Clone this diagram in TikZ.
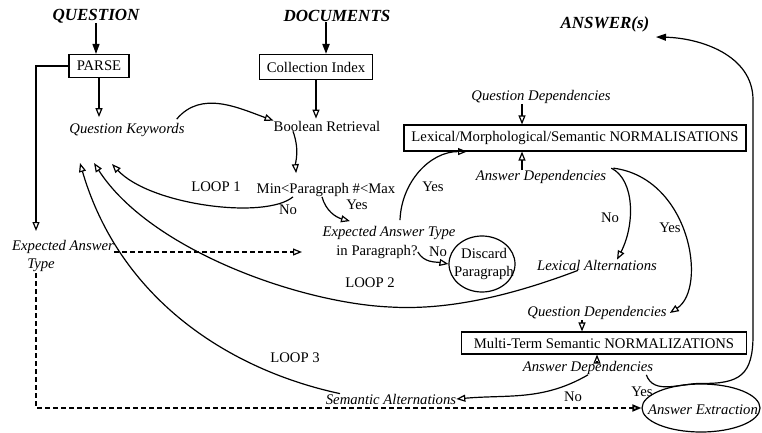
\documentclass[tikz,border=0pt]{standalone}
\usepackage{fontspec}
\setmainfont{Liberation Serif}
\usetikzlibrary{arrows.meta,shapes.geometric}
\begin{document}
\begin{tikzpicture}[x=1pt,y=-1pt,
  txt/.style={inner sep=0pt, font=\fontsize{14.7}{18}\selectfont},
  itx/.style={inner sep=0pt, font=\fontsize{14.7}{18}\selectfont\itshape},
  ttl/.style={inner sep=0pt, font=\fontsize{17}{20}\selectfont\bfseries\itshape},
  box/.style={txt, draw, line width=1.1pt},
  ln/.style={line width=1.2pt},
  oarrow/.style={-{Triangle[open,length=9pt,width=7pt]}},
  farrow/.style={-{Triangle[length=10pt,width=7pt]}},
  dsh/.style={dash pattern=on 5pt off 3pt},
]
\fill[white] (0,0) rectangle (762,433);
\useasboundingbox (0,0) rectangle (762,433);

% nodes
\node[ttl] (question) at (96,16) {QUESTION};
\node[ttl] (documents) at (337,16) {DOCUMENTS};
\node[ttl] (answers) at (605,24) {ANSWER(s)};
\node[box, minimum width=60pt, minimum height=23pt] (parse) at (99,66) {PARSE};
\node[box, minimum width=113pt, minimum height=25pt] (colidx) at (316,67) {Collection Index};
\node[itx] (qk) at (127,130) {Question Keywords};
\node[txt] (bool) at (327,126) {Boolean Retrieval};
\node[txt] (minmax) at (326,190) {Min<Paragraph \#<Max};
\node[txt] (loop1) at (216,187) {LOOP 1};
\node[txt] (no1) at (288,210) {No};
\node[txt] (yes1) at (357,205) {Yes};
\node[itx] (eat1) at (389,233) {Expected Answer Type};
\node[txt] (eat2) at (377,252) {in Paragraph?};
\node[itx] (eal) at (63,247) {Expected Answer};
\node[itx] (ealt) at (41,265) {Type};
\node[txt] (no2) at (438,252) {No};
\node[draw, ellipse, ln, minimum width=66pt, minimum height=56pt, inner sep=0pt] (discard) at (482,264) {};
\node[txt, align=center] (discardtxt) at (484,264) {Discard\\Paragraph};
\node[txt] (yes2) at (433,187) {Yes};
\node[box, minimum width=342pt, minimum height=26pt] (lmsn) at (575,138) {Lexical/Morphological/Semantic NORMALISATIONS};
\node[itx] (qd1) at (541,97) {Question Dependencies};
\node[itx] (ad1) at (541,177) {Answer Dependencies};
\node[txt] (no3) at (610,218) {No};
\node[txt] (yes3) at (670,228) {Yes};
\node[itx] (lexalt) at (597,265) {Lexical Alternations};
\node[txt] (loop2) at (370,283) {LOOP 2};
\node[itx] (qd2) at (597,313) {Question Dependencies};
\node[box, minimum width=285pt, minimum height=22pt] (mtsn) at (604,343) {Multi-Term Semantic NORMALIZATIONS};
\node[itx] (ad2) at (588,368) {Answer Dependencies};
\node[txt] (loop3) at (295,358) {LOOP 3};
\node[itx] (semalt) at (391,399) {Semantic Alternations};
\node[txt] (no4) at (573,397) {No};
\node[txt] (yes4) at (642,392) {Yes};
\node[draw, ellipse, ln, minimum width=118pt, minimum height=48pt, inner sep=0pt] (ae) at (701,408) {};
\node[itx] (aetxt) at (703,410) {Answer Extraction};

% free ends
\coordinate (eain) at (36,231);
\coordinate (eaout) at (36,273);
\coordinate (eatdash) at (302,252);
\coordinate (l1) at (112,164);
\coordinate (l2) at (94,163);
\coordinate (l3) at (80,163);
\coordinate (anstip) at (656,37);

% connectors
\draw[ln,farrow] (question.south) -- (question.south |- parse.north);
\draw[line width=2pt,farrow] ([xshift=-11pt]documents.south) -- ([xshift=10pt]colidx.north);
\draw[ln,oarrow,shorten >=6pt] (parse.south) -- (parse.south |- qk.north);
\draw[ln,oarrow,shorten >=2pt] (colidx.south) -- (colidx.south |- bool.north);
\draw[ln,oarrow] ([xshift=-8pt,yshift=4pt]qk.north east) to[out=50,in=160] (bool.north west);
\draw[ln,oarrow,shorten >=10pt] ([xshift=-34pt]bool.south) to[out=-70,in=95] ([xshift=-29pt]minmax.north);
\draw[ln,oarrow] ([xshift=-33pt]minmax.south) .. controls (265,220) and (150,205) .. (l1);
\draw[ln,oarrow] ([xshift=-4pt]minmax.south) to[out=-75,in=165] ([xshift=-39pt,yshift=5pt]eat1.north);
\draw[ln,dsh,oarrow] (eal.base east |- eatdash) -- (eatdash);
\draw[ln,oarrow] (eat2.east) to[out=-60,in=170] (discard.west);
\draw[ln,oarrow] ([xshift=11pt,yshift=6pt]eat1.north) to[out=88,in=180] ([xshift=-108pt]lmsn.south);
\draw[ln,oarrow] ([xshift=-19pt]qd1.south) -- ([xshift=-53pt]lmsn.north);
\draw[ln,oarrow] ([xshift=-19pt]ad1.north) -- ([xshift=-53pt]lmsn.south);
\draw[ln,oarrow] ([xshift=5pt,yshift=2pt]ad1.north east) .. controls (635,180) and (635,225) .. ([xshift=20pt]lexalt.north);
\draw[ln,oarrow] ([xshift=7pt,yshift=2pt]ad1.north east) .. controls (690,178) and (708,288) .. ([xshift=3pt]qd2.east);
\draw[ln,oarrow] ([xshift=-19pt]lexalt.south) .. controls (500,300) and (440,310) .. (390,307) .. controls (300,303) and (150,250) .. (l2);
\draw[ln,oarrow] ([xshift=-51pt]semalt.north) .. controls (230,370) and (120,300) .. (l3);
\draw[ln,oarrow] ([xshift=-15pt]qd2.south) -- ([xshift=-22pt]mtsn.north);
\draw[ln,oarrow] ([xshift=9pt]ad2.north) -- ([xshift=-7pt]mtsn.south);
\draw[ln,oarrow] (ad2.south) to[out=-150,in=5] (semalt.east);
\draw[ln] ([xshift=-7pt]ad2.south east) to[out=-70,in=180] (ae.north);
\draw[ln,farrow] (ae.north) .. controls (740,384) and (753,375) .. (753,335) -- (753,100) .. controls (753,55) and (700,38) .. (anstip);
\draw[ln,oarrow] (parse.west) -| (eain);
\draw[line width=1.8pt,dsh,oarrow] (eaout) |- (ae.west);
\end{tikzpicture}
\end{document}
